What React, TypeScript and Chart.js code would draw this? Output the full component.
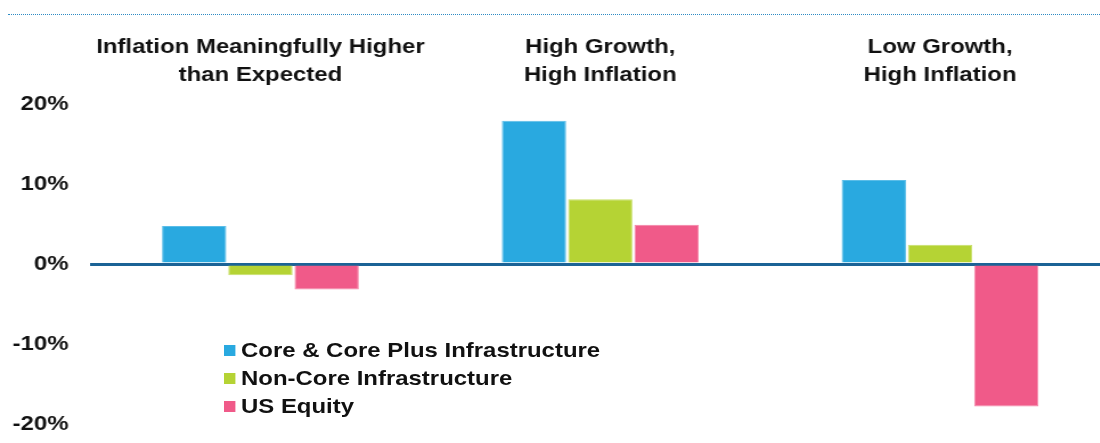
import React, { useEffect, useRef } from "react";
import { Chart, registerables } from "chart.js";

Chart.register(...registerables);

const categories: string[][] = [
  ["Inflation Meaningfully Higher", "than Expected"],
  ["High Growth,", "High Inflation"],
  ["Low Growth,", "High Inflation"],
];
const seriesNames = ["Core & Core Plus Infrastructure", "Non-Core Infrastructure", "US Equity"];
const seriesColors = ["#29A9E0", "#B5D334", "#F05A89"];
const seriesBorders = ["#5ABDE8", "#C8DF6A", "#F483A6"];
const coreValues = [4.75, 17.9, 10.5];
const nonCoreValues = [-1.4, 8.1, 2.4];
const usEquityValues = [-3.2, 4.9, -17.8];
const yTicks = [-20, -10, 0, 10, 20];

const FONT = '"Liberation Sans", Arial, sans-serif';
const SX = 1.14; // horizontal stretch of the original artwork
const CW = 974;
const CH = 443;

export default function App() {
  const ref = useRef<HTMLCanvasElement | null>(null);
  useEffect(() => {
    if (!ref.current) return;
    const values = [coreValues, nonCoreValues, usEquityValues];
    const chart = new Chart(ref.current, {
      type: "bar",
      data: {
        labels: categories,
        datasets: seriesNames.map((name, i) => ({
          label: name,
          data: values[i],
          backgroundColor: seriesColors[i],
          borderColor: seriesBorders[i],
          borderWidth: 1,
          barPercentage: 0.97,
          categoryPercentage: 0.585,
        })),
      },
      options: {
        animation: false,
        responsive: false,
        maintainAspectRatio: false,
        devicePixelRatio: 1,
        layout: { padding: { left: 0, top: 34, right: 0, bottom: 19 } },
        plugins: { legend: { display: false }, tooltip: { enabled: false } },
        scales: {
          x: {
            position: "top",
            grid: { display: false, drawTicks: false },
            border: { display: false },
            afterFit: (s: any) => {
              s.height = 70;
              s.paddingLeft = 0;
              s.paddingRight = 0;
            },
            ticks: {
              color: "#111",
              font: { family: FONT, size: 21, weight: "bold", lineHeight: 1.3 },
              padding: 15.5,
              maxRotation: 0,
              autoSkip: false,
            },
          },
          y: {
            min: yTicks[0],
            max: yTicks[yTicks.length - 1],
            afterBuildTicks: (s: any) => {
              s.ticks = yTicks.map((v) => ({ value: v }));
            },
            afterFit: (s: any) => {
              s.width = 79.4;
              s.paddingTop = 0;
              s.paddingBottom = 0;
            },
            grid: {
              drawTicks: false,
              color: (c: any) => (c.tick && c.tick.value === 0 ? "#1B6396" : "rgba(0,0,0,0)"),
              lineWidth: (c: any) => (c.tick && c.tick.value === 0 ? 3 : 0),
            },
            border: { display: false },
            ticks: {
              color: "#111",
              font: { family: FONT, size: 21, weight: "bold" },
              padding: 19.3,
              callback: (v: any) => `${v}%`,
            },
          },
        },
      },
    });
    return () => chart.destroy();
  }, []);

  return (
    <div style={{ position: "fixed", left: 0, top: 0, width: 1100, height: 443, overflow: "hidden", background: "#fff" }}>
      <div
        style={{
          position: "absolute",
          left: 8,
          top: 14,
          width: 1092,
          height: 0,
          borderTop: "1px dotted #2E8BC4",
        }}
      />
      <canvas
        ref={ref}
        width={CW}
        height={CH}
        style={{ position: "absolute", left: 0, top: 0, width: CW * SX, height: CH }}
      />
      <div
        style={{
          position: "absolute",
          left: 224,
          top: 336,
          fontFamily: FONT,
          fontWeight: "bold",
          fontSize: 21,
          color: "#111",
          transform: `scaleX(${SX})`,
          transformOrigin: "left top",
          whiteSpace: "nowrap",
        }}
      >
        {seriesNames.map((n, i) => (
          <div key={n} style={{ display: "flex", alignItems: "center", height: 28 }}>
            <span
              style={{ display: "inline-block", width: 11 / SX, height: 11, background: seriesColors[i], marginRight: 6 / SX }}
            />
            <span>{n}</span>
          </div>
        ))}
      </div>
    </div>
  );
}
